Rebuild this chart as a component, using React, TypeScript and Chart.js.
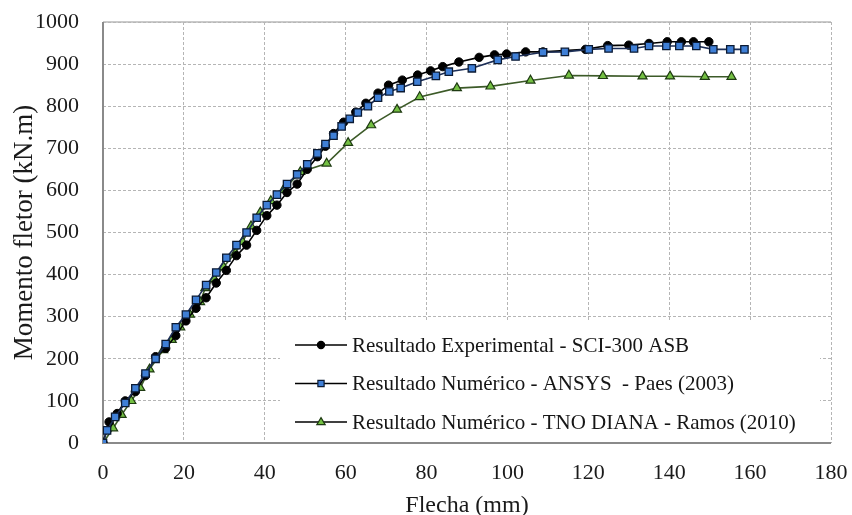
import React, { useEffect, useRef } from "react";
import { Chart, registerables } from "chart.js";

Chart.register(...registerables);

// ---- Data ----
const expX = [0, 1.5, 3.5, 5.5, 8, 10.5, 13, 15.5, 18, 20.5, 23, 25.5, 28, 30.5, 33, 35.5, 38, 40.5, 43, 45.5, 48, 50.5, 53, 55, 57, 59.5, 62.5, 65, 68, 70.6, 74, 77.8, 81, 84, 88, 93, 96.8, 99.8, 104.5, 108.8, 119.3, 124.8, 130, 135, 139.5, 143, 146, 149.8];
const expY = [0, 50, 70, 100, 122, 160, 205, 225, 255, 290, 320, 345, 380, 410, 445, 470, 505, 540, 565, 595, 615, 650, 680, 705, 735, 762, 786, 807, 831, 850, 862, 874, 884, 894, 905, 916, 922, 924, 929, 929, 935, 944, 945, 949, 953, 953, 953, 953];

const ansysX = [0, 1, 3, 5.5, 8, 10.5, 13, 15.5, 18, 20.5, 23, 25.5, 28, 30.5, 33, 35.5, 38, 40.5, 43, 45.5, 48, 50.5, 53, 55, 57, 59, 61, 63, 65.5, 68, 70.8, 73.6, 77.7, 82.3, 85.5, 91.2, 97.6, 102, 108.8, 114.2, 120.1, 125, 131.3, 135, 139.3, 142.5, 146.7, 150.9, 155.1, 158.6];
const ansysY = [0, 30, 62, 95, 130, 165, 200, 235, 275, 305, 340, 375, 405, 440, 470, 500, 535, 565, 590, 615, 638, 662, 688, 710, 730, 752, 770, 785, 800, 820, 835, 843, 858, 872, 882, 890, 910, 918, 928, 929, 935, 937, 937, 943, 943, 943, 943, 935, 935, 935];

const dianaX = [0, 2.5, 4.6, 7, 9.2, 11.5, 14.9, 17, 19.1, 21.5, 24, 25.3, 27.5, 29.8, 32.7, 34.5, 36.6, 38.9, 41.5, 44.6, 48.8, 55.3, 60.6, 66.3, 72.7, 78.3, 87.5, 95.8, 105.7, 115.2, 123.6, 133.4, 140.2, 148.8, 155.4];
const dianaY = [0, 35, 67, 100, 131, 175, 221, 245, 275, 305, 335, 368, 390, 418, 451, 478, 515, 548, 575, 601, 644, 664, 713, 755, 792, 822, 843, 847, 861, 873, 872, 871, 871, 870, 870];

const seriesLabels = [
  "Resultado Experimental - SCI-300 ASB",
  "Resultado Numérico - ANSYS  - Paes (2003)",
  "Resultado Numérico - TNO DIANA - Ramos (2010)",
];

const xAxisTitle = "Flecha (mm)";
const yAxisTitle = "Momento fletor (kN.m)";

const FONT = "'Liberation Serif', 'Times New Roman', serif";

function toPoints(xs: number[], ys: number[]) {
  return xs.map((x, i) => ({ x, y: ys[i] }));
}

function drawMarker(ctx: CanvasRenderingContext2D, style: string, x: number, y: number, r: number, fill: string, stroke: string) {
  ctx.save();
  ctx.fillStyle = fill;
  ctx.strokeStyle = stroke;
  ctx.lineWidth = 1.2;
  ctx.setLineDash([]);
  ctx.beginPath();
  if (style === "circle") {
    ctx.arc(x, y, r, 0, Math.PI * 2);
  } else if (style === "rect") {
    const s = r * Math.SQRT1_2;
    ctx.rect(x - s, y - s, 2 * s, 2 * s);
  } else {
    ctx.moveTo(x, y - r);
    ctx.lineTo(x + r * 0.95, y + r * 0.6);
    ctx.lineTo(x - r * 0.95, y + r * 0.6);
    ctx.closePath();
  }
  ctx.fill();
  ctx.stroke();
  ctx.restore();
}

const frameAndLegend = {
  id: "frameAndLegend",
  beforeDatasetsDraw(chart: any) {
    const { ctx, chartArea: a } = chart;
    ctx.save();
    ctx.setLineDash([]);
    ctx.strokeStyle = "#b8b8b8";
    ctx.lineWidth = 1.5;
    ctx.beginPath();
    ctx.moveTo(a.left, a.top);
    ctx.lineTo(a.right, a.top);
    ctx.stroke();
    ctx.strokeStyle = "#8a8a8a";
    ctx.lineWidth = 2;
    ctx.beginPath();
    ctx.moveTo(a.left, a.top);
    ctx.lineTo(a.left, a.bottom);
    ctx.lineTo(a.right, a.bottom);
    ctx.stroke();
    ctx.restore();
  },
  afterDraw(chart: any) {
    const { ctx, chartArea: a } = chart;
    const left = a.left + 177;
    const top = a.top + 300;
    const right = a.right - 11;
    const bottom = a.bottom - 1.5;
    ctx.save();
    ctx.fillStyle = "#ffffff";
    ctx.fillRect(left, top, right - left, bottom - top);
    chart.data.datasets.forEach((ds: any, i: number) => {
      const y = top + 23 + i * 38.5;
      ctx.strokeStyle = "#000";
      ctx.lineWidth = 1.6;
      ctx.setLineDash([]);
      ctx.beginPath();
      ctx.moveTo(left + 15, y);
      ctx.lineTo(left + 67, y);
      ctx.stroke();
      drawMarker(ctx, ds.pointStyle, left + 41, y, i === 0 ? 3.6 : 4.4, ds.pointBackgroundColor, ds.pointBorderColor);
      ctx.fillStyle = "#161616";
      ctx.font = `21px ${FONT}`;
      ctx.textBaseline = "middle";
      ctx.textAlign = "left";
      ctx.fillText(ds.label, left + 72, y + 1);
    });
    ctx.restore();
  },
};

export default function App() {
  const canvasRef = useRef<HTMLCanvasElement | null>(null);

  useEffect(() => {
    document.body.style.margin = "0";
    const canvas = canvasRef.current;
    if (!canvas) return;
    const chart = new Chart(canvas, {
      type: "line",
      data: {
        datasets: [
          {
            label: seriesLabels[0],
            data: toPoints(expX, expY),
            borderColor: "#000000",
            borderWidth: 1.6,
            pointStyle: "circle",
            pointRadius: 4.2,
            pointBackgroundColor: "#000000",
            pointBorderColor: "#000000",
            pointBorderWidth: 1,
            order: 2,
          },
          {
            label: seriesLabels[1],
            data: toPoints(ansysX, ansysY),
            borderColor: "#1d2f57",
            borderWidth: 1.6,
            pointStyle: "rect",
            pointRadius: 5.2,
            pointBackgroundColor: "#3f7fd6",
            pointBorderColor: "#0b1a33",
            pointBorderWidth: 1.3,
            order: 1,
          },
          {
            label: seriesLabels[2],
            data: toPoints(dianaX, dianaY),
            borderColor: "#3c5a28",
            borderWidth: 1.6,
            pointStyle: "triangle",
            pointRadius: 5.2,
            pointBackgroundColor: "#74c043",
            pointBorderColor: "#1e3a12",
            pointBorderWidth: 1.2,
            order: 3,
          },
        ],
      },
      options: {
        responsive: false,
        animation: false,
        layout: { padding: { top: 22, right: 21, left: 0, bottom: 0 } },
        plugins: {
          legend: { display: false },
          tooltip: { enabled: false },
        },
        elements: { line: { tension: 0 } },
        scales: {
          x: {
            type: "linear",
            min: 0,
            max: 180,
            ticks: {
              stepSize: 20,
              color: "#1a1a1a",
              font: { family: FONT, size: 22 },
              padding: 17,
              maxRotation: 0,
              callback: (v: any) => String(v),
            },
            grid: {
              color: "#b5b5b5",
              lineWidth: 1,
              drawTicks: false,
            },
            border: { display: false, dash: [3, 2] },
            title: {
              display: true,
              text: xAxisTitle,
              color: "#1a1a1a",
              font: { family: FONT, size: 24, lineHeight: 0.8 },
              padding: { top: 0, bottom: 0 },
            },
            afterFit: (scale: any) => {
              scale.height = 72;
              scale.paddingLeft = 0;
              scale.paddingRight = 0;
            },
          },
          y: {
            type: "linear",
            min: 0,
            max: 1000,
            ticks: {
              stepSize: 100,
              color: "#1a1a1a",
              font: { family: FONT, size: 22 },
              padding: 24,
              callback: (v: any) => String(v),
            },
            grid: {
              color: "#b5b5b5",
              lineWidth: 1,
              drawTicks: false,
            },
            border: { display: false, dash: [3, 2] },
            title: {
              display: true,
              text: yAxisTitle,
              color: "#1a1a1a",
              font: { family: FONT, size: 27 },
              padding: { top: 9, bottom: 0 },
            },
            afterFit: (scale: any) => {
              scale.width = 103;
              scale.paddingTop = 0;
              scale.paddingBottom = 0;
            },
          },
        },
      },
      plugins: [frameAndLegend],
    });
    return () => chart.destroy();
  }, []);

  return (
    <div style={{ width: 852, height: 515, background: "#fff" }}>
      <canvas ref={canvasRef} width={852} height={515} style={{ display: "block" }} />
    </div>
  );
}
